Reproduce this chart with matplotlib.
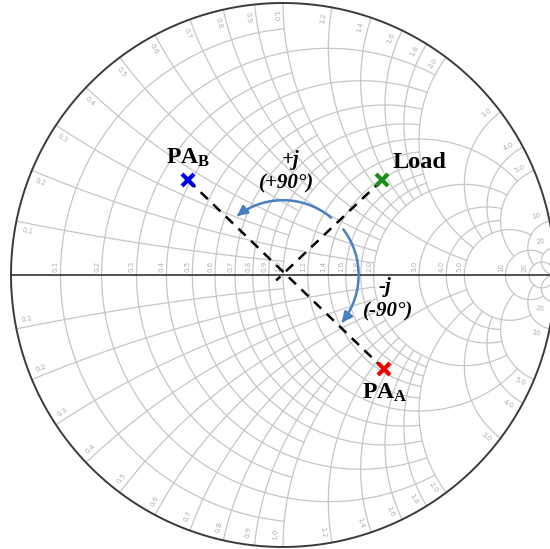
import numpy as np
import matplotlib.pyplot as plt
from matplotlib.path import Path
from matplotlib.patches import FancyArrowPatch

plt.rcParams['mathtext.fontset'] = 'custom'
plt.rcParams['mathtext.rm'] = 'Liberation Serif:bold'
plt.rcParams['mathtext.it'] = 'Liberation Serif:bold:italic'

# smith chart grid values (resistance circles / reactance arcs) and how far each is drawn
res_vals = [0.1, 0.2, 0.3, 0.4, 0.5, 0.6, 0.7, 0.8, 0.9, 1.0, 1.2, 1.4, 1.6, 1.8, 2.0, 3.0, 4.0, 5.0, 10, 20]
res_xmax = [1, 2, 1, 2, 1, 2, 1, 2, 1, 5, 2, 2, 2, 2, 5, 5, 5, 10, 20, np.inf]
react_vals = [0.1, 0.2, 0.3, 0.4, 0.5, 0.6, 0.7, 0.8, 0.9, 1.0, 1.2, 1.4, 1.6, 1.8, 2.0, 3.0, 4.0, 5.0, 10, 20]
react_rmax = [1, 2, 1, 2, 1, 2, 1, 2, 1, 5, 2, 2, 2, 2, 5, 5, 5, 10, 20, np.inf]

# points (reflection coefficient, re / im)
pt_names = ["Load", "PA_B", "PA_A"]
pt_re = [0.364, -0.349, 0.371]
pt_im = [0.349, 0.349, -0.346]
pt_colors = ["#1e8c1e", "#0000ee", "#ee0000"]

# rotation arrows: radius, start angle, end angle (deg)
arc_r = [0.275, 0.278]
arc_start = [50, 37]
arc_end = [128, -39]

grid_col = "#c6c6c6"
lab_col = "#a8afbb"


def gam(z):
    return (z - 1) / (z + 1)


def fmt(v):
    return "%d" % v if v >= 10 else "%.1f" % v


fig = plt.figure(figsize=(5.5, 5.49), dpi=100)
ax = fig.add_axes([0, 0, 1, 1])
ax.set_xlim(-1.0404, 0.9816)
ax.set_ylim(-1.0074, 1.0110)
ax.set_aspect('equal')
ax.axis('off')

# resistance circles
for r, xm in zip(res_vals, res_xmax):
    tmax = np.arctan(xm) if np.isfinite(xm) else 0.49999 * np.pi
    x = np.tan(np.linspace(-tmax, tmax, 600))
    g = gam(r + 1j * x)
    ax.plot(g.real, g.imag, color=grid_col, lw=0.9, zorder=1)
    ax.text(gam(r).real - 0.006, 0.012, fmt(r), rotation=90, ha='right', va='bottom',
            fontsize=5, color=lab_col, zorder=2)

# reactance arcs
for xv, rm in zip(react_vals, react_rmax):
    tmax = np.arctan(rm) if np.isfinite(rm) else 0.49999 * np.pi
    r = np.tan(np.linspace(0, tmax, 500))
    for s in (1, -1):
        g = gam(r + 1j * s * xv)
        ax.plot(g.real, g.imag, color=grid_col, lw=0.9, zorder=1)
        th = np.degrees(np.angle(gam(1j * s * xv))) + s * 1.6
        if s > 0:
            rot = th if th <= 90 else th - 180
        else:
            rot = th if th >= -90 else th + 180
        ax.text(0.955 * np.cos(np.radians(th)), 0.955 * np.sin(np.radians(th)), fmt(xv),
                rotation=rot, ha='center', va='center', fontsize=5, color=lab_col, zorder=2)

# outer circle and real axis
t = np.linspace(0, 2 * np.pi, 800)
ax.plot(np.cos(t), np.sin(t), color="#3a3a3a", lw=1.4, zorder=3)
ax.plot([-1, 1], [0, 0], color="#333333", lw=1.2, zorder=3)

# dashed lines through the centre
ax.plot([pt_re[1], pt_re[2]], [pt_im[1], pt_im[2]], color='black', ls=(0, (4, 3)), lw=1.8, zorder=4)
ax.plot([pt_re[0], -0.025], [pt_im[0], -0.02], color='black', ls=(0, (4, 3)), lw=1.8, zorder=4)

# markers
for xr, yi, c in zip(pt_re, pt_im, pt_colors):
    ax.plot(xr, yi, marker='x', ms=8, mew=3, color=c, zorder=6)

# curved arrows
for rad, a0, a1 in zip(arc_r, arc_start, arc_end):
    a = np.radians(np.linspace(a0, a1, 60))
    verts = np.column_stack([rad * np.cos(a), rad * np.sin(a)])
    p = Path(verts)
    arr = FancyArrowPatch(path=p, arrowstyle='-|>', mutation_scale=15, color="#4a7fc1",
                          lw=1.8, zorder=5)
    ax.add_patch(arr)

# labels
ax.text(0.401, 0.412, "Load", fontsize=17.5, fontweight='bold', family='Liberation Serif',
        ha='left', va='center', zorder=7)
ax.text(-0.349, 0.430, r"PA$_\mathrm{B}$", fontsize=17, fontweight='bold', family='Liberation Serif',
        ha='center', va='center', zorder=7)
ax.text(0.375, -0.434, r"PA$_\mathrm{A}$", fontsize=17, fontweight='bold', family='Liberation Serif',
        ha='center', va='center', zorder=7)
ax.text(0.026, 0.423, "+j", fontsize=15, fontweight='bold', style='italic', family='Liberation Serif',
        ha='center', va='center', zorder=7)
ax.text(0.015, 0.338, "(+90°)", fontsize=15, fontweight='bold', style='italic', family='Liberation Serif',
        ha='center', va='center', zorder=7)
ax.text(0.375, -0.044, "-j", fontsize=15, fontweight='bold', style='italic', family='Liberation Serif',
        ha='center', va='center', zorder=7)
ax.text(0.386, -0.136, "(-90°)", fontsize=15, fontweight='bold', style='italic', family='Liberation Serif',
        ha='center', va='center', zorder=7)

fig.savefig("out.png", dpi=100)
